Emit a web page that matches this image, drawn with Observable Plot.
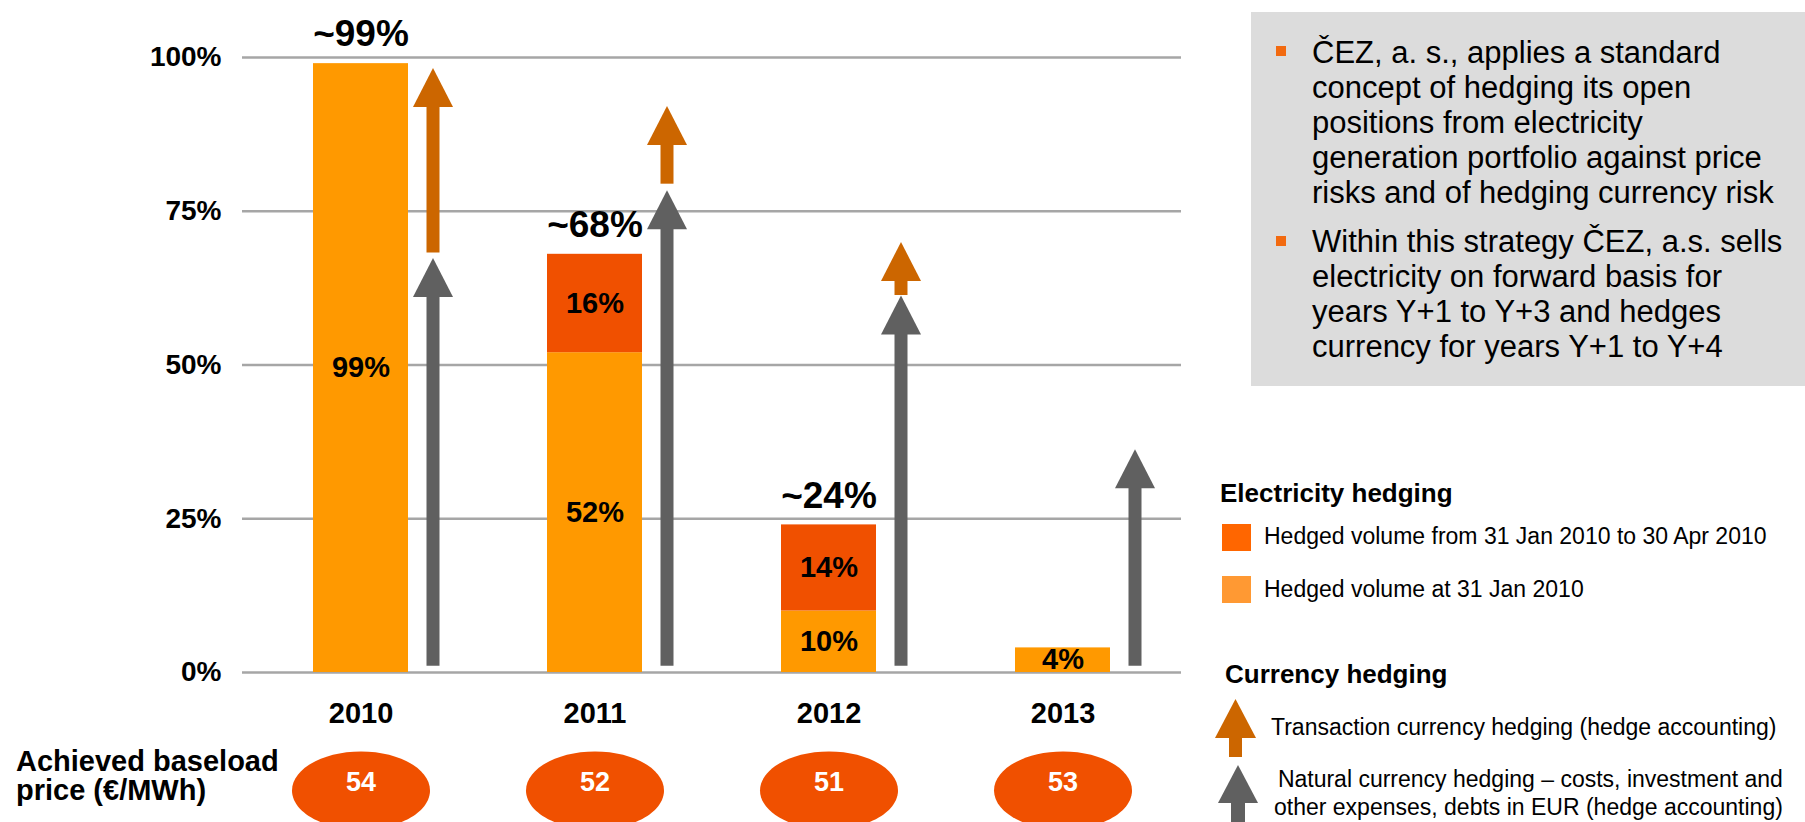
<!DOCTYPE html>
<html>
<head>
<meta charset="utf-8">
<script src="https://cdn.jsdelivr.net/npm/d3@7"></script>
<script src="https://cdn.jsdelivr.net/npm/@observablehq/plot@0.6"></script>
<style>
  html, body { margin: 0; padding: 0; background: #fff; }
  #wrap { position: relative; width: 1805px; height: 822px; overflow: hidden; background: #fff;
          font-family: "Liberation Sans", Arial, sans-serif; color: #000; }
  #chart { position: absolute; left: 0; top: 0; }
  .abs { position: absolute; white-space: nowrap; }
  #box { left: 1251px; top: 12px; width: 554px; height: 374px; background: #dcdcdc; }
  .bul { left: 1312px; font-size: 31px; line-height: 35px; }
  .sq { width: 10px; height: 10px; background: #f26a10; left: 1276px; }
  .lh { font-size: 26px; font-weight: bold; line-height: 1; }
  .lt { font-size: 23px; line-height: 1; }
  .lsw { width: 29px; height: 27px; left: 1222px; }
  #price { left: 16px; top: 747px; font-size: 29px; font-weight: bold; line-height: 29px; }
</style>
</head>
<body>
<div id="wrap">
  <div id="chart"></div>
  <div id="price" class="abs">Achieved baseload<br>price (€/MWh)</div>

  <div id="box" class="abs"></div>
  <div class="abs sq" style="top:46px"></div>
  <div class="abs bul" style="top:35px">ČEZ, a. s., applies a standard<br>concept of hedging its open<br>positions from electricity<br>generation portfolio against price<br>risks and of hedging currency risk</div>
  <div class="abs sq" style="top:236px"></div>
  <div class="abs bul" style="top:224px">Within this strategy ČEZ, a.s. sells<br>electricity on forward basis for<br>years Y+1 to Y+3 and hedges<br>currency for years Y+1 to Y+4</div>

  <div class="abs lh" style="left:1220px; top:480px">Electricity hedging</div>
  <div class="abs lsw" style="top:524px; background:#ff6600"></div>
  <div class="abs lt" style="left:1264px; top:525px">Hedged volume from 31 Jan 2010 to 30 Apr 2010</div>
  <div class="abs lsw" style="top:576px; background:#ff9933"></div>
  <div class="abs lt" style="left:1264px; top:578px">Hedged volume at 31 Jan 2010</div>

  <div class="abs lh" style="left:1225px; top:661px">Currency hedging</div>
  <svg class="abs" style="left:1210px; top:695px" width="56" height="130">
    <polygon points="25.5,4 5,43 46,43" fill="#cc6600"/>
    <rect x="19" y="43" width="13" height="19" fill="#cc6600"/>
    <polygon points="28,70 8,108 48,108" fill="#606060"/>
    <rect x="21" y="108" width="14" height="22" fill="#606060"/>
  </svg>
  <div class="abs lt" style="left:1271px; top:716px">Transaction currency hedging (hedge accounting)</div>
  <div class="abs lt" style="left:1274px; top:765px; line-height:28px; text-align:right">Natural currency hedging – costs, investment and<br>other expenses, debts in EUR (hedge accounting)</div>
</div>
<script>
// ---- data ----
const years = ["2010", "2011", "2012", "2013"];
const hedgedAtJan = [99, 52, 10, 4];          // Hedged volume at 31 Jan 2010 (%)
const hedgedFebApr = [0, 16, 14, 0];          // Hedged volume from 31 Jan to 30 Apr 2010 (%)
const totalLabels = ["~99%", "~68%", "~24%", ""];
const prices = [54, 52, 51, 53];              // Achieved baseload price (€/MWh)
const naturalFrom = [1, 1, 1, 1];             // Natural currency hedging arrows (%)
const naturalTo = [67.4, 78.4, 61.3, 36.3];
const transactionFrom = [68.2, 79.4, 61.3, null]; // Transaction currency hedging arrows (%)
const transactionTo = [98.3, 92.1, 70.0, null];
const yTicks = [0, 25, 50, 75, 100];

// ---- table built from arrays ----
const rows = years.map((year, i) => ({
  year,
  jan: hedgedAtJan[i],
  add: hedgedFebApr[i],
  total: hedgedAtJan[i] + hedgedFebApr[i],
  totalLabel: totalLabels[i],
  price: prices[i],
  natFrom: naturalFrom[i],
  natTo: naturalTo[i],
  trFrom: transactionFrom[i],
  trTo: transactionTo[i]
}));

const segLabels = [];
rows.forEach(d => {
  if (d.jan > 0) segLabels.push({year: d.year, y: d.jan / 2, text: d.jan + "%"});
  if (d.add > 0) segLabels.push({year: d.year, y: d.jan + d.add / 2, text: d.add + "%"});
});

// arrow head: tip at origin, base below
const arrowHead = {
  draw(ctx) {
    ctx.moveTo(0, 0);
    ctx.lineTo(20, 39);
    ctx.lineTo(-20, 39);
    ctx.closePath();
  }
};
const ellipse = {
  draw(ctx) {
    const rx = 69, ry = 39, k = 0.5523;
    ctx.moveTo(rx, 0);
    ctx.bezierCurveTo(rx, ry * k, rx * k, ry, 0, ry);
    ctx.bezierCurveTo(-rx * k, ry, -rx, ry * k, -rx, 0);
    ctx.bezierCurveTo(-rx, -ry * k, -rx * k, -ry, 0, -ry);
    ctx.bezierCurveTo(rx * k, -ry, rx, -ry * k, rx, 0);
    ctx.closePath();
  }
};

const ADX = 72;
const trRows = rows.filter(d => d.trFrom != null);

const chart = Plot.plot({
  width: 1200,
  height: 822,
  marginLeft: 242,
  marginRight: 19,
  marginTop: 57,
  marginBottom: 150,
  style: {fontFamily: "'Liberation Sans', Arial, sans-serif", background: "transparent", color: "#000", overflow: "visible"},
  x: {type: "band", domain: years, paddingInner: 0.595, paddingOuter: 0.2975},
  y: {domain: [0, 100]},
  marks: [
    Plot.ruleY(yTicks, {y: d => d, stroke: "#a6a6a6", strokeWidth: 2.5}),
    Plot.axisY({ticks: yTicks, tickFormat: d => `${d}%`, tickSize: 0, tickPadding: 21, fontSize: 28, fontWeight: "bold", label: null}),
    Plot.axisX({tickSize: 0, tickPadding: 30, fontSize: 29, fontWeight: "bold", label: null}),
    Plot.barY(rows, {x: "year", y1: 0, y2: "jan", fill: "#ff9900", inset: 0}),
    Plot.barY(rows.filter(d => d.add > 0), {x: "year", y1: "jan", y2: "total", fill: "#f05000", inset: 0}),
    Plot.text(segLabels, {x: "year", y: "y", text: "text", fontSize: 29, fontWeight: "bold", fill: "#000"}),
    Plot.text(rows.filter(d => d.totalLabel), {x: "year", y: "total", text: "totalLabel", dy: -29, fontSize: 37, fontWeight: "bold", fill: "#000"}),
    // natural currency hedging arrows (y1 = top end, inset leaves room for the head)
    Plot.ruleX(rows, {x: "year", y1: "natTo", y2: "natFrom", dx: ADX, stroke: "#606060", strokeWidth: 13, insetTop: 38}),
    Plot.dot(rows, {x: "year", y: "natTo", dx: ADX, symbol: arrowHead, fill: "#606060", stroke: "none"}),
    // transaction currency hedging arrows
    Plot.ruleX(trRows, {x: "year", y1: "trTo", y2: "trFrom", dx: ADX, stroke: "#cc6600", strokeWidth: 13, insetTop: 38}),
    Plot.dot(trRows, {x: "year", y: "trTo", dx: ADX, symbol: arrowHead, fill: "#cc6600", stroke: "none"}),
    // achieved baseload price ellipses
    Plot.dot(rows, {x: "year", frameAnchor: "bottom", dy: 118, symbol: ellipse, fill: "#f05000", stroke: "none"}),
    Plot.text(rows, {x: "year", frameAnchor: "bottom", dy: 118, text: d => String(d.price), fill: "#fff", fontSize: 27, fontWeight: "bold"})
  ]
});
document.getElementById("chart").appendChild(chart);
</script>
</body>
</html>
